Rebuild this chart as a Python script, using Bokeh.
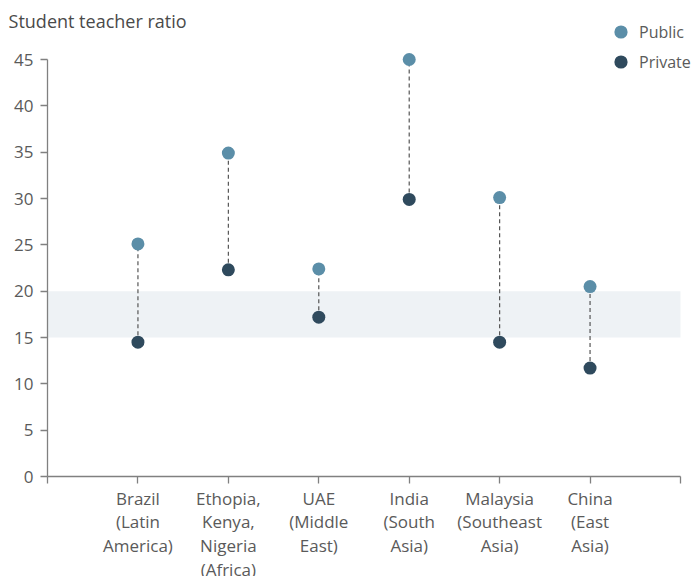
from bokeh.plotting import figure
from bokeh.models import (ColumnDataSource, FixedTicker, BoxAnnotation, Legend, LegendItem, Range1d, Label)
from bokeh.embed import file_html
from bokeh.resources import INLINE

categories = ["Brazil\n(Latin\nAmerica)", "Ethopia,\nKenya,\nNigeria\n(Africa)", "UAE\n(Middle\nEast)",
              "India\n(South\nAsia)", "Malaysia\n(Southeast\nAsia)", "China\n(East\nAsia)"]
public = [25.1, 34.9, 22.4, 45.0, 30.1, 20.5]
private = [14.5, 22.3, 17.2, 29.9, 14.5, 11.7]
y_ticks = [0, 5, 10, 15, 20, 25, 30, 35, 40, 45]

FONT = "Open Sans"
TXT = "#5a5a5a"
AX = "#808080"
C_PUB = "#5b8ea8"
C_PRI = "#2f4a5d"

xs = list(range(1, len(categories) + 1))
src = ColumnDataSource(dict(x=xs, pub=public, pri=private))

W, H = 692, 576
p = figure(width=W, height=H, output_backend="svg", toolbar_location=None, title=None,
           x_range=Range1d(-0.520, 7.133), y_range=Range1d(-10.79, 51.37),
           min_border=0)
p.outline_line_color = None
p.grid.grid_line_color = None
p.background_fill_color = "white"

p.add_layout(BoxAnnotation(left=0, right=7, bottom=15, top=20, fill_color="#eef2f5",
                           fill_alpha=1, line_color=None, level="underlay"))

p.segment(x0="x", y0="pri", x1="x", y1="pub", source=src, line_color="#555555", line_width=1.2, line_dash="4 3")
r_pub = p.scatter(x="x", y="pub", source=src, size=13, fill_color=C_PUB, line_color=None)
r_pri = p.scatter(x="x", y="pri", source=src, size=13, fill_color=C_PRI, line_color=None)

# axes (fixed at the origin, drawn inside the frame)
p.xaxis.ticker = FixedTicker(ticks=[0] + xs + [7])
overrides = {0: "", 7: ""}
for i, c in zip(xs, categories):
    overrides[i] = c
p.xaxis.major_label_overrides = overrides
p.xaxis.bounds = (0, 7)
p.xaxis.fixed_location = 0
p.yaxis.ticker = FixedTicker(ticks=y_ticks)
p.yaxis.bounds = (0, 45)
p.yaxis.fixed_location = 0
for ax in (p.xaxis[0], p.yaxis[0]):
    ax.axis_line_color = AX
    ax.axis_line_width = 1.3
    ax.major_tick_line_color = AX
    ax.major_tick_line_width = 1.3
    ax.major_tick_in = 0
    ax.major_tick_out = 7
    ax.minor_tick_line_color = None
    ax.major_label_text_font = FONT
    ax.major_label_text_font_size = "17px"
    ax.major_label_text_color = TXT
p.xaxis.major_label_text_line_height = 1.04
p.xaxis.major_label_standoff = 3
p.yaxis.major_label_standoff = 7

title = Label(x=-0.431, y=49.2, text="Student teacher ratio", text_font=FONT, text_font_size="18px",
              text_color="#4a4a4a", text_baseline="middle", text_align="left")
p.add_layout(title)

common = dict(label_text_font=FONT, label_text_font_size="16px", label_text_color=TXT,
              glyph_width=33, glyph_height=33, label_standoff=2, label_height=33,
              background_fill_alpha=0, border_line_color=None, padding=0, margin=0, spacing=0)
leg1 = Legend(items=[LegendItem(label="Public", renderers=[r_pub])], location=(604, 528), **common)
leg2 = Legend(items=[LegendItem(label="Private", renderers=[r_pri])], location=(604, 498), **common)
p.add_layout(leg1, "center")
p.add_layout(leg2, "center")

open("out.html", "w").write(file_html(p, INLINE))
